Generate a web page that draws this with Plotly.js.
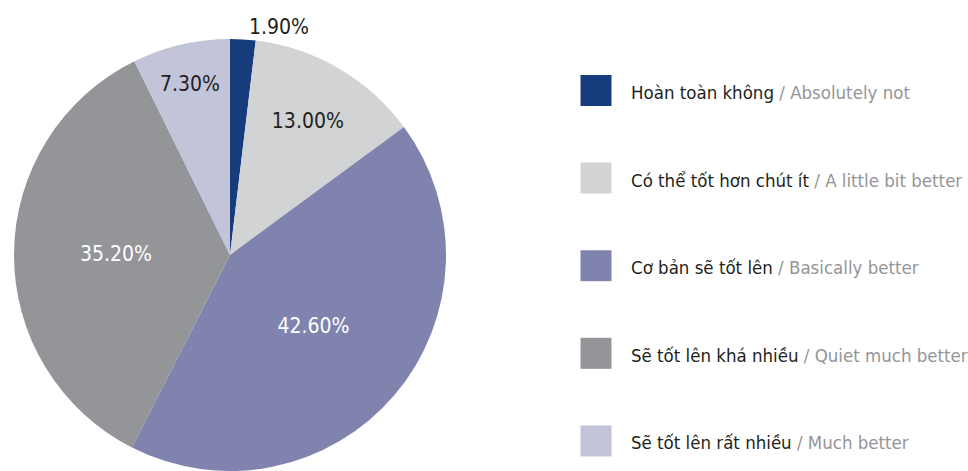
<!DOCTYPE html>
<html>
<head>
<meta charset="utf-8">
<script src="https://cdn.plot.ly/plotly-3.0.1.min.js"></script>
<style>
html,body{margin:0;padding:0;overflow:hidden;background:#fff;}
#chart{width:968px;height:471px;}
</style>
</head>
<body>
<div id="chart"></div>
<script>
const labelsVi = ["Hoàn toàn không", "Có thể tốt hơn chút ít", "Cơ bản sẽ tốt lên", "Sẽ tốt lên khá nhiều", "Sẽ tốt lên rất nhiều"];
const labelsEn = ["Absolutely not", "A little bit better", "Basically better", "Quiet much better", "Much better"];
const values = [1.9, 13.0, 42.6, 35.2, 7.3];
const colors = ["#173c7b", "#d1d3d4", "#7f83ae", "#939598", "#c2c4da"];
const textColors = ["#231f20", "#231f20", "#ffffff", "#ffffff", "#231f20"];
const textPositions = ["outside", "inside", "inside", "inside", "inside"];

const FONT = "'DejaVu Sans Condensed', 'Liberation Sans Narrow', 'Arial Narrow', sans-serif";

const legendNames = labelsVi.map((v, i) =>
  '&nbsp;<br><span style="font-size:18.5px">' + v + ' <span style="color:#939598">/ ' + labelsEn[i] + '</span></span><br>&nbsp;');

const trace = {
  type: 'pie',
  labels: legendNames,
  values: values,
  text: values.map(v => v.toFixed(2) + '%'),
  textinfo: 'text',
  hoverinfo: 'none',
  sort: false,
  direction: 'clockwise',
  rotation: 0,
  marker: {colors: colors, line: {width: 0}},
  textposition: textPositions,
  insidetextorientation: 'horizontal',
  textfont: {family: FONT, size: 21, color: textColors},
  outsidetextfont: {family: FONT, size: 21, color: "#231f20"},
  domain: {x: [14/968, 446/968], y: [0, 432/471]},
  showlegend: true
};

const layout = {
  width: 968,
  height: 471,
  margin: {l: 0, r: 0, t: 0, b: 0, autoexpand: false},
  paper_bgcolor: '#ffffff',
  font: {family: FONT, color: '#231f20'},
  showlegend: true,
  legend: {
    x: 561/968, xanchor: 'left',
    y: 0.435, yanchor: 'middle',
    font: {family: FONT, size: 21.7, color: '#231f20'},
    itemwidth: 60,
    bgcolor: 'rgba(0,0,0,0)',
    itemclick: false, itemdoubleclick: false
  }
};

Plotly.newPlot('chart', [trace], layout, {displayModeBar: false, staticPlot: true}).then(gd => {
  gd.querySelectorAll('.legend .legendpoints path').forEach(p => {
    p.setAttribute('d', 'M15.5,15.5H-15.5V-15.5H15.5Z');
  });
});
</script>
</body>
</html>
